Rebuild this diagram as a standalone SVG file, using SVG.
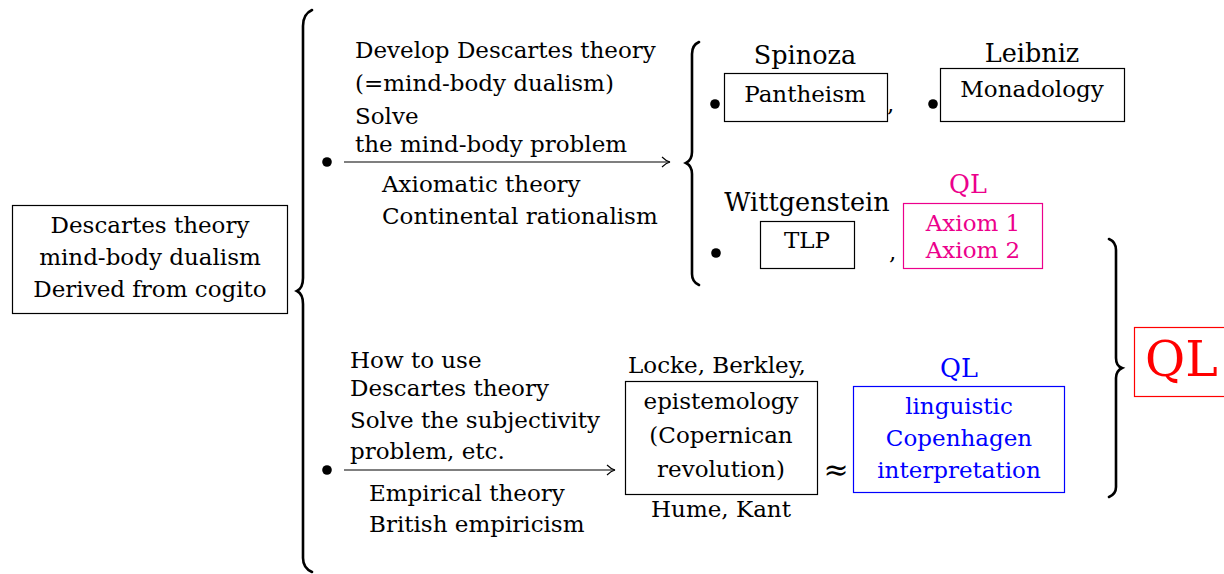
<svg xmlns="http://www.w3.org/2000/svg" width="1224" height="574" viewBox="0 0 1224 574">
<defs>
<style>
text{font-size:23px;fill:#000}
.c{text-anchor:middle}
.lg{font-size:25.5px}
.box{fill:none;stroke:#000;stroke-width:1.2}
.brace{fill:none;stroke:#000;stroke-width:2.6;stroke-linecap:round}
.arr{fill:none;stroke:#000;stroke-width:1.2}
.pink{fill:#ec008c}
.blue{fill:#0000ff}
</style>
<marker id="ah" markerWidth="12" markerHeight="12" refX="10" refY="6" orient="auto" markerUnits="userSpaceOnUse">
<path d="M2,1 Q6,5 10,6 Q6,7 2,11" fill="none" stroke="#000" stroke-width="1.1"/>
</marker>
</defs>
<rect width="1224" height="574" fill="#fff"/>
<g font-family="DejaVu Serif, Liberation Serif, serif">

<g id="descartes">
<rect class="box" x="12.5" y="205.5" width="275" height="108"/>
<text class="c" x="150" y="233">Descartes theory</text>
<text class="c" x="150" y="265">mind-body dualism</text>
<text class="c" x="150" y="297">Derived from cogito</text>
</g>

<g id="braces">
<path class="brace" d="M312,10 Q303,14 303,26 L303,278 Q303,288 297,291 Q303,294 303,304 L303,558 Q303,568 312,572"/>
<path class="brace" d="M699,42 Q692,45 692,54 L692,152 Q692,160 686,163 Q692,166 692,174 L692,274 Q692,282 699,285"/>
<path class="brace" d="M1109,239 Q1116,242 1116,250 L1116,358 Q1116,366 1122,368 Q1116,371 1116,378 L1116,487 Q1116,494 1109,497"/>
</g>

<g id="connectors">
<line class="arr" x1="344" y1="162" x2="670" y2="162" marker-end="url(#ah)"/>
<line class="arr" x1="344" y1="470" x2="615" y2="470" marker-end="url(#ah)"/>
</g>

<g id="upper-branch">
<circle cx="327" cy="162" r="4.8"/>
<text x="355" y="58">Develop Descartes theory</text>
<text x="355" y="91">(=mind-body dualism)</text>
<text x="355" y="124">Solve</text>
<text x="355" y="152">the mind-body problem</text>
<text x="382" y="192">Axiomatic theory</text>
<text x="382" y="224">Continental rationalism</text>
</g>

<g id="spinoza">
<circle cx="715" cy="104" r="4.8"/>
<text class="c lg" x="805" y="64">Spinoza</text>
<rect class="box" x="724.5" y="73.5" width="163" height="48"/>
<text class="c" x="805" y="102">Pantheism</text>
<text x="887" y="112">,</text>
</g>

<g id="leibniz">
<circle cx="933" cy="104" r="4.8"/>
<text class="c lg" x="1032" y="62">Leibniz</text>
<rect class="box" x="940.5" y="68.5" width="184" height="53"/>
<text class="c" x="1032" y="97">Monadology</text>
</g>

<g id="wittgenstein">
<circle cx="716" cy="253" r="4.8"/>
<text class="c lg" x="807" y="211">Wittgenstein</text>
<rect class="box" x="760.5" y="221.5" width="94" height="47"/>
<text class="c" x="807" y="248">TLP</text>
<text x="889" y="260">,</text>
</g>

<g id="ql-axiom">
<text class="c pink lg" x="968" y="193">QL</text>
<rect x="903.5" y="203.5" width="139" height="65" fill="none" stroke="#ec008c" stroke-width="1.2"/>
<text class="c pink" x="973" y="231">Axiom 1</text>
<text class="c pink" x="973" y="258">Axiom 2</text>
</g>

<g id="lower-branch">
<circle cx="327" cy="470" r="4.8"/>
<text x="350" y="368">How to use</text>
<text x="350" y="396">Descartes theory</text>
<text x="350" y="428">Solve the subjectivity</text>
<text x="350" y="459">problem, etc.</text>
<text x="369" y="501">Empirical theory</text>
<text x="369" y="532">British empiricism</text>
</g>

<g id="epistemology">
<text class="c" x="717" y="373">Locke, Berkley,</text>
<rect class="box" x="625.5" y="381.5" width="192" height="113"/>
<text class="c" x="721" y="409">epistemology</text>
<text class="c" x="721" y="443">(Copernican</text>
<text class="c" x="721" y="477">revolution)</text>
<text class="c" x="721" y="517">Hume, Kant</text>
<text class="c" x="836" y="480" style="font-size:30px">≈</text>
</g>

<g id="ql-copenhagen">
<text class="c blue lg" x="959" y="377">QL</text>
<rect x="853.5" y="386.5" width="211" height="106" fill="none" stroke="#0000ff" stroke-width="1.2"/>
<text class="c blue" x="959" y="414">linguistic</text>
<text class="c blue" x="959" y="446">Copenhagen</text>
<text class="c blue" x="959" y="478">interpretation</text>
</g>

<g id="ql-main">
<rect x="1134.5" y="327.5" width="95" height="69" fill="none" stroke="#ff0000" stroke-width="1.2"/>
<text x="1145" y="376" style="font-size:49px;fill:#ff0000">QL</text>
</g>
</g>
</svg>
